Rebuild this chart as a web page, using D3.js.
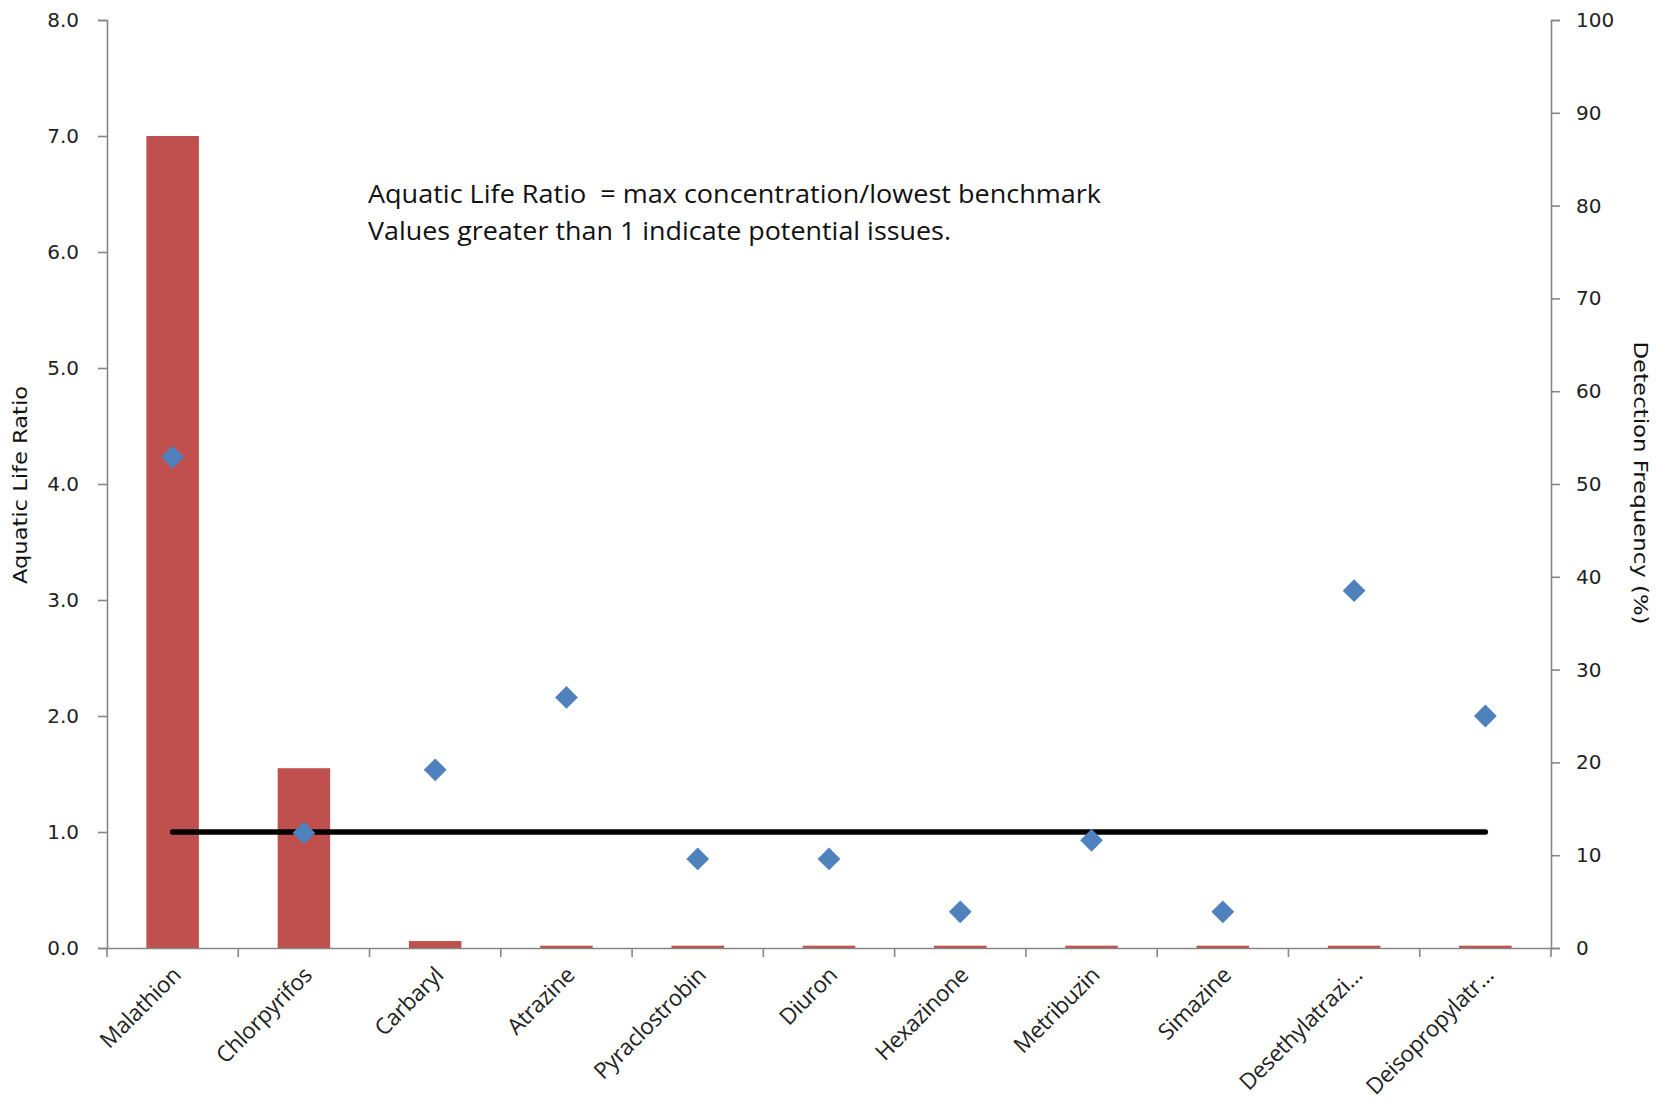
<!DOCTYPE html>
<html>
<head>
<meta charset="utf-8">
<script src="https://cdn.jsdelivr.net/npm/d3@7"></script>
<style>
  html, body { margin: 0; padding: 0; background: #fff; }
  svg { display: block; }
</style>
</head>
<body>
<svg id="chart" width="1657" height="1105"></svg>
<script>
const categories = ["Malathion", "Chlorpyrifos", "Carbaryl", "Atrazine", "Pyraclostrobin", "Diuron", "Hexazinone", "Metribuzin", "Simazine", "Desethylatrazi…", "Deisopropylatr…"];
const aquaticLifeRatio = [7.0, 1.55, 0.06, 0.02, 0.02, 0.02, 0.02, 0.02, 0.02, 0.02, 0.02];
const detectionFrequency = [52.9, 12.4, 19.2, 27.0, 9.6, 9.6, 3.9, 11.6, 3.9, 38.5, 25.0];
const benchmark = [1, 1, 1, 1, 1, 1, 1, 1, 1, 1, 1];
const leftTicks = [0, 1, 2, 3, 4, 5, 6, 7, 8];
const rightTicks = [0, 10, 20, 30, 40, 50, 60, 70, 80, 90, 100];
const annotationLines = ["Aquatic Life Ratio  = max concentration/lowest benchmark", "Values greater than 1 indicate potential issues."];

const svg = d3.select("#chart");
const x0 = 107, x1 = 1551, yTop = 20, yBot = 948;
const axisColor = "#868686";

const x = d3.scaleBand().domain(categories).range([x0, x1]).padding(0);
const yL = d3.scaleLinear().domain([0, 8]).range([yBot, yTop]);
const yR = d3.scaleLinear().domain([0, 100]).range([yBot, yTop]);

// Bars
svg.append("g").selectAll("rect").data(categories).join("rect")
  .attr("x", d => x(d) + x.bandwidth() * 0.3)
  .attr("width", x.bandwidth() * 0.4)
  .attr("y", (d, i) => yL(aquaticLifeRatio[i]))
  .attr("height", (d, i) => yBot - yL(aquaticLifeRatio[i]))
  .attr("fill", "#c0504d");

// Left axis
const gL = svg.append("g").attr("transform", `translate(${x0},0)`)
  .call(d3.axisLeft(yL).tickValues(leftTicks).tickFormat(d3.format(".1f")).tickSizeOuter(0).tickSize(9).tickPadding(19));
// Right axis
const gR = svg.append("g").attr("transform", `translate(${x1},0)`)
  .call(d3.axisRight(yR).tickValues(rightTicks).tickSizeOuter(0).tickSize(9).tickPadding(16));
// Bottom axis
const gB = svg.append("g").attr("transform", `translate(0,${yBot})`)
  .call(d3.axisBottom(x).tickSize(0).tickSizeOuter(0).tickFormat(""));
// Category boundary ticks
const bounds = categories.map(c => x(c)).concat([x1]);
gB.selectAll("line.bound").data(bounds).join("line").attr("class", "bound")
  .attr("x1", d => d).attr("x2", d => d).attr("y1", 0).attr("y2", 9);

[gL, gR, gB].forEach(g => {
  g.selectAll("path, line").attr("stroke", axisColor).attr("stroke-width", 1.6);
});
[gL, gR].forEach(g => {
  g.selectAll("text").attr("font-family", "DejaVu Sans").attr("font-size", 20).attr("fill", "#222");
});

// Category labels
svg.append("g").selectAll("text").data(categories).join("text")
  .attr("transform", d => `translate(${x(d) + x.bandwidth() / 2 + 4},${yBot + 23}) rotate(-45)`)
  .attr("text-anchor", "end")
  .attr("dy", "0.35em")
  .attr("font-family", "Open Sans")
  .attr("font-size", 22.5)
  .attr("letter-spacing", -0.3)
  .attr("fill", "#222")
  .text(d => d);

// Benchmark line
const line = d3.line().x((d, i) => x(categories[i]) + x.bandwidth() / 2).y(d => yL(d));
svg.append("path").datum(benchmark)
  .attr("d", line)
  .attr("fill", "none").attr("stroke", "#000").attr("stroke-width", 5.5).attr("stroke-linecap", "round");

// Detection frequency diamonds
const sym = d3.symbol().type(d3.symbolSquare).size(260);
svg.append("g").selectAll("path").data(detectionFrequency).join("path")
  .attr("d", sym)
  .attr("transform", (d, i) => `translate(${x(categories[i]) + x.bandwidth() / 2},${yR(d)}) rotate(45)`)
  .attr("fill", "#4f81bd");

// Axis titles
svg.append("text")
  .attr("transform", `translate(27,485) rotate(-90)`)
  .attr("text-anchor", "middle")
  .attr("font-family", "DejaVu Sans").attr("font-size", 19).attr("fill", "#111")
  .attr("textLength", 198).attr("lengthAdjust", "spacingAndGlyphs")
  .text("Aquatic Life Ratio");
svg.append("text")
  .attr("transform", `translate(1634,483) rotate(90)`)
  .attr("text-anchor", "middle")
  .attr("font-family", "DejaVu Sans").attr("font-size", 19).attr("fill", "#111")
  .attr("textLength", 283).attr("lengthAdjust", "spacingAndGlyphs")
  .text("Detection Frequency (%)");

// Annotation
const ann = svg.append("g").attr("font-family", "Open Sans").attr("font-size", 25).attr("fill", "#111");
const annLens = [733, 583];
annotationLines.forEach((t, i) => {
  ann.append("text").attr("x", 368).attr("y", 203 + i * 37)
    .attr("textLength", annLens[i]).attr("lengthAdjust", "spacingAndGlyphs")
    .attr("xml:space", "preserve")
    .text(t);
});
</script>
</body>
</html>
